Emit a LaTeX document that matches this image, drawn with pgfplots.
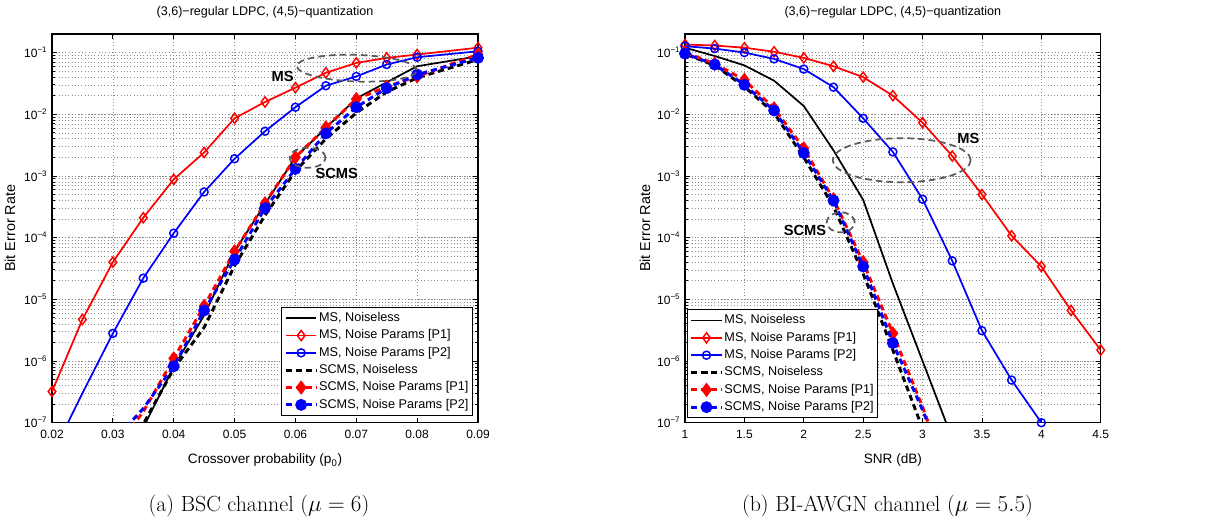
\documentclass[border=0pt]{standalone}
\usepackage{fontspec}
\usepackage{pgfplots}
\pgfplotsset{compat=1.18}
\usetikzlibrary{shapes.geometric}
\newfontfamily\arial{Liberation Sans}
\definecolor{anngray}{RGB}{90,90,90}
\definecolor{gridgray}{RGB}{140,140,140}

\pgfplotsset{
  legend image code/.code={\draw[mark repeat=2,mark phase=2,#1] plot coordinates {(0cm,0cm) (0.4cm,0cm) (0.8cm,0cm)};},
}
\tikzset{
 ann/.style={draw=anngray, line width=1.3pt, dash pattern=on 5pt off 3pt, ellipse, inner sep=0pt},
 anntext/.style={font=\arial\bfseries\fontsize{11}{13}\selectfont, text=black},
}

\begin{document}
\begin{tikzpicture}
\useasboundingbox (0,0) rectangle (910.5pt,388.5pt);

% ---------------- Left: BSC ----------------
\begin{axis}[at={(39pt,71.5pt)}, anchor=south west, width=319.5pt,
  scale only axis, height=291.5pt,
  ymode=log, ymin=1e-7, ymax=0.2,
  clip mode=individual,
  axis line style={line width=0.8pt},
  tick align=inside,
  major tick length=3.5pt, minor tick length=2pt,
  tick style={black, line width=0.6pt},
  grid=both,
  major grid style={gridgray, line width=0.5pt, dotted},
  minor grid style={gridgray, line width=0.45pt, dotted},
  minor x tick num=0,
  scaled x ticks=false,
  ytick={1e-7,1e-6,1e-5,1e-4,1e-3,1e-2,1e-1},
  yticklabels={10\textsuperscript{−7},10\textsuperscript{−6},10\textsuperscript{−5},10\textsuperscript{−4},10\textsuperscript{−3},10\textsuperscript{−2},10\textsuperscript{−1}},
  tick label style={font=\arial\fontsize{9}{10}\selectfont},
  xticklabel style={yshift=-2pt},
  xlabel style={font=\arial\fontsize{10.2}{12}\selectfont, at={(axis description cs:0.5,-0.1063)}, anchor=base},
  title style={font=\arial\fontsize{9.4}{11}\selectfont, at={(axis description cs:0.5,1.0283)}, anchor=base, yshift=0pt},
  title={(3,6)−regular LDPC, (4,5)−quantization},
  ylabel={Bit Error Rate},
  ylabel style={font=\arial\fontsize{10.8}{12}\selectfont, at={(axis description cs:-0.0986,0.5)}, anchor=center},
  legend cell align=left,
  legend style={font=\arial\fontsize{9.5}{11}\selectfont, draw=black, line width=0.8pt, fill=white,
     inner xsep=2pt, inner ysep=2pt, row sep=1pt,
     nodes={inner sep=1pt, text height=7.5pt, text depth=2.5pt}},
  xmin=0.02, xmax=0.09,
  xtick={0.02,0.03,0.04,0.05,0.06,0.07,0.08,0.09},
  xticklabels={0.02,0.03,0.04,0.05,0.06,0.07,0.08,0.09},
  xlabel={Crossover probability (p\textsubscript{0})},
  legend style={at={(0.988,0.017)}, anchor=south east},
]
\addplot[black, solid, line width=1.3pt, no marks] coordinates {(0.035,8.3e-8) (0.04,8e-7) (0.045,5.5e-6) (0.05,6e-5) (0.055,3.5e-4) (0.06,2e-3) (0.065,6e-3) (0.07,1.8e-2) (0.075,3.3e-2) (0.08,6e-2) (0.09,8.7e-2)};
\addlegendentry{MS, Noiseless}
\addplot[red, solid, line width=1.3pt, mark=diamond, mark size=3.8pt, mark options={solid, line width=1.1pt}] coordinates {(0.02,3.2e-7) (0.025,4.7e-6) (0.03,4e-5) (0.035,2.1e-4) (0.04,8.8e-4) (0.045,2.4e-3) (0.05,8.6e-3) (0.055,1.58e-2) (0.06,2.7e-2) (0.065,4.7e-2) (0.07,6.8e-2) (0.075,8.2e-2) (0.08,9.3e-2) (0.09,1.2e-1)};
\addlegendentry{MS, Noise Params [P1]}
\addplot[blue, solid, line width=1.3pt, mark=o, mark size=3pt, mark options={solid, line width=1.1pt}, mark phase=2] coordinates {(0.02,3e-8) (0.025,3e-7) (0.03,2.8e-6) (0.035,2.2e-5) (0.04,1.18e-4) (0.045,5.5e-4) (0.05,1.9e-3) (0.055,5.3e-3) (0.06,1.3e-2) (0.065,2.9e-2) (0.07,4.1e-2) (0.075,6.4e-2) (0.08,8.4e-2) (0.09,1.05e-1)};
\addlegendentry{MS, Noise Params [P2]}
\addplot[black, line width=2.2pt, dash pattern=on 4.5pt off 3pt, no marks] coordinates {(0.03,1e-8) (0.035,9.5e-8) (0.04,7.5e-7) (0.045,3.5e-6) (0.05,3.5e-5) (0.055,2.3e-4) (0.06,1.2e-3) (0.065,4e-3) (0.07,1.05e-2) (0.075,2.3e-2) (0.08,3.9e-2) (0.09,7.7e-2)};
\addlegendentry{SCMS, Noiseless}
\addplot[red, line width=2.2pt, dash pattern=on 4.5pt off 3pt, mark=diamond*, mark size=5pt, mark options={solid, fill=red, line width=0.5pt}, mark phase=2] coordinates {(0.03,3.5e-8) (0.035,1.5e-7) (0.04,1.1e-6) (0.045,7.8e-6) (0.05,6e-5) (0.055,3.6e-4) (0.06,2e-3) (0.065,6.1e-3) (0.07,1.76e-2) (0.075,2.8e-2) (0.08,4.1e-2) (0.09,9.3e-2)};
\addlegendentry{SCMS, Noise Params [P1]}
\addplot[blue, line width=2.2pt, dash pattern=on 4.5pt off 3pt, mark=*, mark size=4.2pt, mark options={solid, fill=blue, line width=0.5pt}, mark phase=2] coordinates {(0.03,4.9e-8) (0.035,1.7e-7) (0.04,8.2e-7) (0.045,6.6e-6) (0.05,4.4e-5) (0.055,3e-4) (0.06,1.3e-3) (0.065,4.9e-3) (0.07,1.3e-2) (0.075,2.65e-2) (0.08,4.4e-2) (0.09,8.2e-2)};
\addlegendentry{SCMS, Noise Params [P2]}
\node[ann, minimum width=90pt, minimum height=20pt, rotate=-2] at (axis cs:0.0701,0.0558) {};
\node[ann, minimum width=27pt, minimum height=15pt] at (axis cs:0.0620,1.97e-3) {};
\node[anntext] at (axis cs:0.0579,0.041) {MS};
\node[anntext] at (axis cs:0.0668,1.09e-3) {SCMS};
\end{axis}

% ---------------- Right: BI-AWGN ----------------
\begin{axis}[at={(513.75pt,71.5pt)}, anchor=south west, width=311.8pt,
  scale only axis, height=291.5pt,
  ymode=log, ymin=1e-7, ymax=0.2,
  clip mode=individual,
  axis line style={line width=0.8pt},
  tick align=inside,
  major tick length=3.5pt, minor tick length=2pt,
  tick style={black, line width=0.6pt},
  grid=both,
  major grid style={gridgray, line width=0.5pt, dotted},
  minor grid style={gridgray, line width=0.45pt, dotted},
  minor x tick num=0,
  ytick={1e-7,1e-6,1e-5,1e-4,1e-3,1e-2,1e-1},
  yticklabels={10\textsuperscript{−7},10\textsuperscript{−6},10\textsuperscript{−5},10\textsuperscript{−4},10\textsuperscript{−3},10\textsuperscript{−2},10\textsuperscript{−1}},
  tick label style={font=\arial\fontsize{9}{10}\selectfont},
  xticklabel style={yshift=-2pt},
  xlabel style={font=\arial\fontsize{10.2}{12}\selectfont, at={(axis description cs:0.5,-0.1063)}, anchor=base},
  title style={font=\arial\fontsize{9.4}{11}\selectfont, at={(axis description cs:0.5,1.0283)}, anchor=base, yshift=0pt},
  title={(3,6)−regular LDPC, (4,5)−quantization},
  ylabel={Bit Error Rate},
  ylabel style={font=\arial\fontsize{10.8}{12}\selectfont, at={(axis description cs:-0.0962,0.5)}, anchor=center},
  legend cell align=left,
  legend style={font=\arial\fontsize{9.5}{11}\selectfont, draw=black, line width=0.8pt, fill=white,
     inner xsep=2pt, inner ysep=2pt, row sep=1pt,
     nodes={inner sep=1pt, text height=7.5pt, text depth=2.5pt}},
  xmin=1, xmax=4.5,
  xtick={1,1.5,2,2.5,3,3.5,4,4.5},
  xticklabels={1,1.5,2,2.5,3,3.5,4,4.5},
  xlabel={SNR (dB)},
  legend style={at={(0.004,0.011)}, anchor=south west},
]
\addplot[black, solid, line width=1.3pt, no marks] coordinates {(1,0.12) (1.25,0.088) (1.5,0.062) (1.75,0.035) (2,0.0136) (2.25,2.6e-3) (2.5,4.1e-4) (2.75,1.8e-5) (3,1e-6) (3.25,5.5e-8)};
\addlegendentry{MS, Noiseless}
\addplot[red, solid, line width=1.3pt, mark=diamond, mark size=3.8pt, mark options={solid, line width=1.1pt}] coordinates {(1,0.135) (1.25,0.13) (1.5,0.12) (1.75,0.103) (2,0.082) (2.25,0.06) (2.5,0.04) (2.75,0.02) (3,7.3e-3) (3.25,2.1e-3) (3.5,5e-4) (3.75,1.07e-4) (4,3.4e-5) (4.25,6.6e-6) (4.5,1.5e-6)};
\addlegendentry{MS, Noise Params [P1]}
\addplot[blue, solid, line width=1.3pt, mark=o, mark size=3pt, mark options={solid, line width=1.1pt}] coordinates {(1,0.127) (1.25,0.116) (1.5,0.1) (1.75,0.079) (2,0.054) (2.25,0.0275) (2.5,8.6e-3) (2.75,2.45e-3) (3,4.2e-4) (3.25,4.2e-5) (3.5,3.1e-6) (3.75,4.9e-7) (4,1e-7)};
\addlegendentry{MS, Noise Params [P2]}
\addplot[black, line width=2.2pt, dash pattern=on 4.5pt off 3pt, no marks] coordinates {(3.25,5e-9) (3,8e-8) (2.75,1.5e-6) (2.5,2.6e-5) (2.25,3.2e-4) (2,2e-3) (1.75,0.0105) (1.5,0.028) (1.25,0.062) (1,0.095)};
\addlegendentry{SCMS, Noiseless}
\addplot[red, line width=2.2pt, dash pattern=on 4.5pt off 3pt, mark=diamond*, mark size=5pt, mark options={solid, fill=red, line width=0.5pt}, mark phase=2] coordinates {(3.25,9e-9) (3,1.8e-7) (2.75,2.8e-6) (2.5,4e-5) (2.25,4.2e-4) (2,2.8e-3) (1.75,0.0125) (1.5,0.036) (1.25,0.066) (1,0.1)};
\addlegendentry{SCMS, Noise Params [P1]}
\addplot[blue, line width=2.2pt, dash pattern=on 4.5pt off 3pt, mark=*, mark size=4.2pt, mark options={solid, fill=blue, line width=0.5pt}, mark phase=2] coordinates {(3.25,1e-8) (3,1.6e-7) (2.75,1.95e-6) (2.5,3.4e-5) (2.25,4e-4) (2,2.35e-3) (1.75,0.0115) (1.5,0.03) (1.25,0.064) (1,0.096)};
\addlegendentry{SCMS, Noise Params [P2]}
\node[ann, minimum width=103.5pt, minimum height=33pt] at (axis cs:2.824,1.8e-3) {};
\node[ann, minimum width=21pt, minimum height=15pt] at (axis cs:2.311,1.77e-4) {};
\node[anntext] at (axis cs:3.385,4.1e-3) {MS};
\node[anntext] at (axis cs:2.01,1.33e-4) {SCMS};
\end{axis}

\node[anchor=base, font=\fontsize{16.4}{19}\selectfont] at (194.25pt,4.7pt) {(a) BSC channel ($\mu = 6$)};
\node[anchor=base, font=\fontsize{16.4}{19}\selectfont] at (665.6pt,4.7pt) {(b) BI-AWGN channel ($\mu = 5.5$)};
\end{tikzpicture}
\end{document}
